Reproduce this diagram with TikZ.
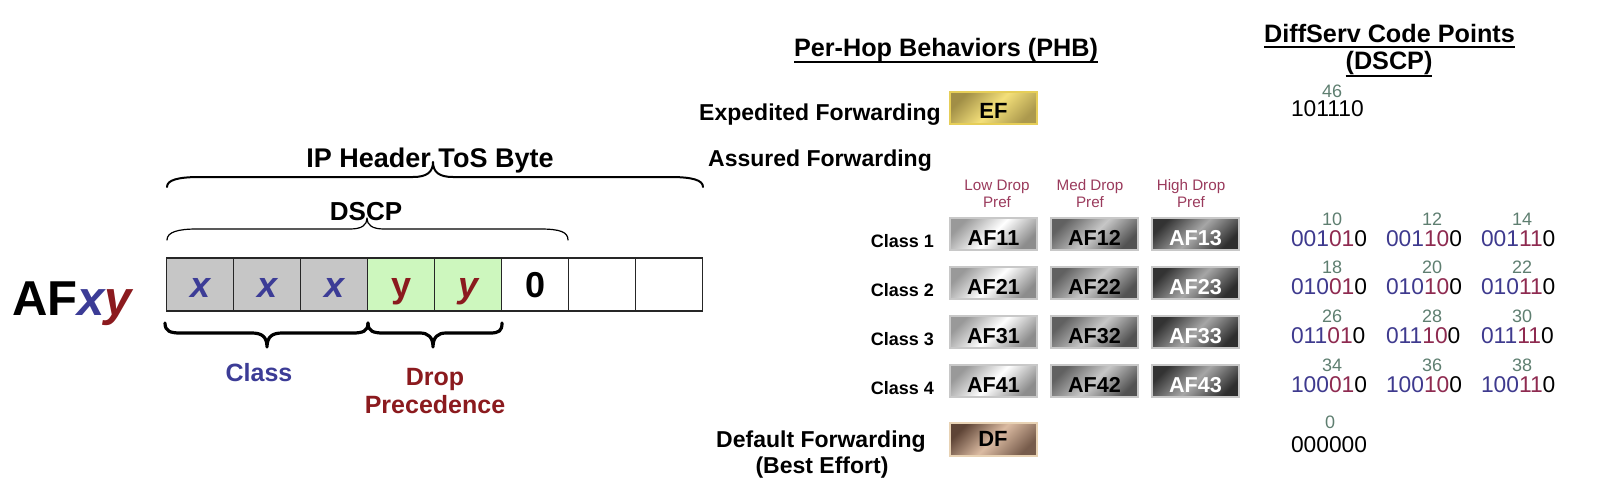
\documentclass[tikz,border=0pt]{standalone}
\usepackage{fontspec}
\setmainfont{Liberation Sans}
\definecolor{clsblue}{HTML}{3C3C96}
\definecolor{dropred}{HTML}{8B1A1E}
\definecolor{bitblue}{HTML}{3E3A8E}
\definecolor{bitred}{HTML}{8E2A50}
\definecolor{numgreen}{HTML}{5E7E70}
\definecolor{prefred}{HTML}{9A3A5C}
\definecolor{boxgray}{HTML}{C6C6C6}
\definecolor{boxgreen}{HTML}{CDF7BE}
\definecolor{efmid}{HTML}{F4E07A}
\definecolor{efdark}{HTML}{857335}
\definecolor{efborder}{HTML}{E6CE58}
\definecolor{dfmid}{HTML}{DBBBA2}
\definecolor{dfdark}{HTML}{5E4436}
\definecolor{dfborder}{HTML}{E8D2B4}
\definecolor{afborder}{HTML}{C8C8C8}
\newcommand\fsz[2]{\fontsize{#1}{#2}\selectfont}
\newcommand\dsbits[3]{{\color{bitblue}#1}{\color{bitred}#2}{\color{black}#3}}
\begin{document}
\begin{tikzpicture}[x=0.5pt,y=-0.5pt,
  txt/.style={inner sep=0pt, outer sep=0pt},
  cell/.style={draw=black!85, line width=0.6pt, minimum width=33.5pt, minimum height=26.5pt,
    inner sep=0pt, text height=12.5pt, text depth=0pt, font=\fsz{18pt}{20pt}\bfseries},
  afbox/.style={draw=afborder, line width=1pt, minimum width=43.5pt, minimum height=16pt,
    inner sep=0pt, text height=11.5pt, text depth=0pt, font=\fsz{10.8pt}{12pt}\bfseries},
  lowaf/.style={afbox, top color=black!40, bottom color=black!45, middle color=white, shading angle=45},
  medaf/.style={afbox, top color=black!62, bottom color=black!68, middle color=black!22, shading angle=45},
  highaf/.style={afbox, top color=black!80, bottom color=black!82, middle color=black!35, shading angle=45, text=white},
  big/.style={txt, font=\fsz{11.5pt}{14pt}\bfseries},
  head/.style={txt, font=\fsz{12.6pt}{15pt}\bfseries},
  lbl/.style={txt, font=\fsz{9pt}{11pt}\bfseries},
  pref/.style={txt, font=\fsz{7.6pt}{8pt}, text=prefred},
  code/.style={txt, font=\fsz{11.4pt}{13pt}},
  num/.style={txt, font=\fsz{9pt}{10pt}, text=numgreen},
  brace/.style={line cap=round, line join=round}
]
\useasboundingbox (0,0) rectangle (1600,492);

% ---------- left part ----------
\node[txt, anchor=base west, font=\fsz{24.5pt}{27pt}\bfseries] (afxy) at (12,315)
  {AF{\color{clsblue}\itshape x}{\color{dropred}\itshape y}};

\node[cell, fill=boxgray] (c1) at (200.2,284.5) {\color{clsblue}\itshape x};
\node[cell, fill=boxgray] (c2) at (267.2,284.5) {\color{clsblue}\itshape x};
\node[cell, fill=boxgray] (c3) at (334.2,284.5) {\color{clsblue}\itshape x};
\node[cell, fill=boxgreen] (c4) at (401.2,284.5) {\color{dropred}y};
\node[cell, fill=boxgreen] (c5) at (468.2,284.5) {\color{dropred}\itshape y};
\node[cell, fill=white] (c6) at (535.2,284.5) {0};
\node[cell, fill=white] (c7) at (602.2,284.5) {};
\node[cell, fill=white] (c8) at (669.2,284.5) {};

% braces
\draw[brace, line width=1pt] (167,187) .. controls (167,180) and (178,177) .. (200,177)
  -- (413,177) .. controls (427,177) and (433,172) .. (433,162)
  .. controls (433,172) and (439,177) .. (453,177) -- (670,177)
  .. controls (692,177) and (703,180) .. (703,187);
\node[txt, anchor=base, font=\fsz{13.5pt}{16pt}\bfseries] (iph) at (430,168) {IP Header ToS Byte};

\draw[brace, line width=0.6pt] (167,240) .. controls (167,232) and (178,229) .. (197,229)
  -- (350,229) .. controls (362,229) and (367,225) .. (367,218)
  .. controls (367,225) and (372,229) .. (384,229) -- (540,229)
  .. controls (560,229) and (568,232) .. (568,240);
\node[txt, anchor=base, font=\fsz{13pt}{16pt}\bfseries] (dscp) at (366,220) {DSCP};

\draw[brace, line width=1.6pt] (165,323) .. controls (165,331) and (170,333) .. (180,333)
  -- (252,333) .. controls (262,333) and (267,337) .. (267,347)
  .. controls (267,337) and (272,333) .. (282,333) -- (353,333)
  .. controls (363,333) and (368,331) .. (368,323);
\draw[brace, line width=1.6pt] (368,323) .. controls (368,331) and (373,333) .. (383,333)
  -- (420,333) .. controls (428,333) and (433,337) .. (433,347)
  .. controls (433,337) and (438,333) .. (446,333) -- (490,333)
  .. controls (499,333) and (502,331) .. (502,323);

\node[txt, anchor=base, font=\fsz{12.5pt}{14pt}\bfseries, text=clsblue] (class) at (259,381) {Class};
\node[txt, anchor=base, font=\fsz{12.5pt}{14pt}\bfseries, text=dropred] (drop1) at (435,385) {Drop};
\node[txt, anchor=base, font=\fsz{12.5pt}{14pt}\bfseries, text=dropred] (drop2) at (435,413) {Precedence};

% ---------- PHB ----------
\node[head, anchor=base] (phb) at (946,57) {Per-Hop Behaviors (PHB)};
\draw[line width=1pt] ([yshift=-2.5pt]phb.base west) -- ([yshift=-2.5pt]phb.base east);

\node[head, anchor=base] (dsh1) at (1389.5,43) {DiffServ Code Points};
\draw[line width=1pt] ([yshift=-1.8pt]dsh1.base west) -- ([yshift=-1.8pt]dsh1.base east);
\node[head, anchor=base] (dsh2) at (1389,70) {(DSCP)};
\draw[line width=1pt] ([yshift=-3pt]dsh2.base west) -- ([yshift=-3pt]dsh2.base east);

\node[big, anchor=base] (expf) at (820,120) {Expedited Forwarding};
\node[afbox, minimum height=16pt, text height=11pt, draw=efborder,
  top color=efdark!75!efmid, bottom color=efdark!65!efmid, middle color=efmid, shading angle=45,
  font=\fsz{11pt}{12pt}\bfseries] (ef) at (993.5,108) {EF};
\node[code, anchor=base west] (efcode) at (1291,117) {101110};
\node[num] (efnum) at (1332,91) {46};

\node[big, anchor=base] (assf) at (820,166) {Assured Forwarding};

\node[pref, anchor=base] (p1a) at (997,191) {Low Drop};
\node[pref, anchor=base] (p1b) at (997,207) {Pref};
\node[pref, anchor=base] (p2a) at (1090,191) {Med Drop};
\node[pref, anchor=base] (p2b) at (1090,207) {Pref};
\node[pref, anchor=base] (p3a) at (1191,191) {High Drop};
\node[pref, anchor=base] (p3b) at (1191,207) {Pref};

\foreach \r/\cb in {1/001,2/010,3/011,4/100}{
  \pgfmathsetmacro{\ry}{233.5+49.2*(\r-1)}
  \pgfmathsetmacro{\by}{246+48.7*(\r-1)}
  \pgfmathsetmacro{\cy}{247+49*(\r-1)}
  \pgfmathsetmacro{\ny}{\by-27}
  \node[lbl, anchor=base east] (cls\r) at (934,\cy) {Class \r};
  \foreach \c/\db/\sty/\cx/\bx/\lx in {1/01/lowaf/993.5/1291/1332, 2/10/medaf/1094.5/1386/1432, 3/11/highaf/1195.5/1481/1522}{
    \pgfmathtruncatemacro{\val}{8*\r+2*\c}
    \node[\sty] (af\r\c) at (\cx,\ry) {AF\r\c};
    \node[code, anchor=base west] (code\r\c) at (\bx,\by) {\dsbits{\cb}{\db}{0}};
    \node[num] (num\r\c) at (\lx,\ny) {\val};
  }
}

\node[big, anchor=base] (deff) at (821,447) {Default Forwarding};
\node[big, anchor=base] (beff) at (822,473) {(Best Effort)};
\node[afbox, minimum height=16.5pt, text height=6.5pt, draw=dfborder,
  top color=dfdark, bottom color=dfdark!80!dfmid, middle color=dfmid, shading angle=45,
  font=\fsz{11pt}{12pt}\bfseries] (df) at (993,439.5) {DF};
\node[code, anchor=base west] (dfcode) at (1291,452) {000000};
\node[num] (dfnum) at (1330,422) {0};
\end{tikzpicture}
\end{document}
